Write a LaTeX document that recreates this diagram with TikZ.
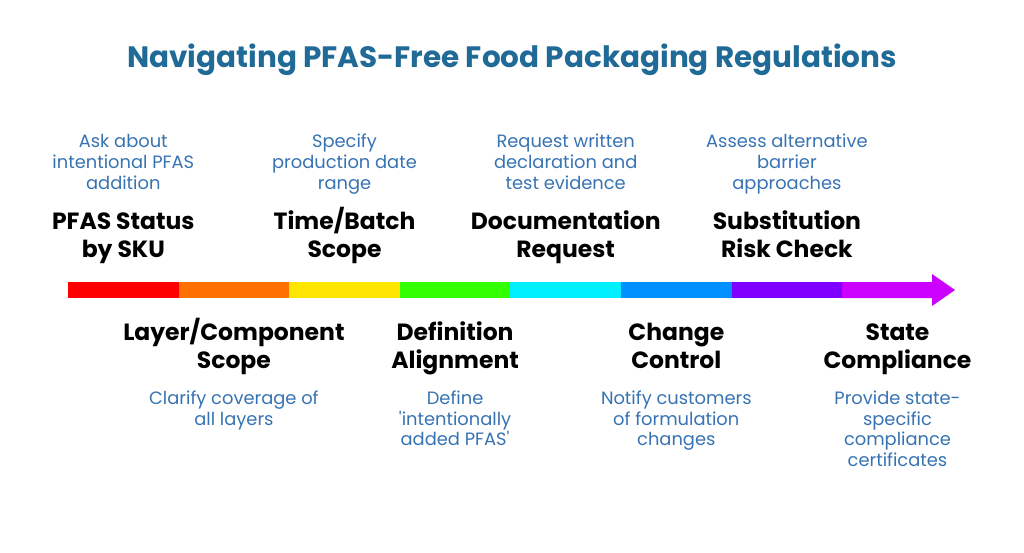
\documentclass[tikz,border=0pt]{standalone}
\usepackage{fontspec}
\setmainfont{Poppins}
\usetikzlibrary{arrows.meta, positioning}
\definecolor{titleblue}{RGB}{31,106,150}
\definecolor{descblue}{RGB}{55,115,178}
\definecolor{segred}{RGB}{255,0,0}
\definecolor{segorange}{RGB}{255,112,0}
\definecolor{segyellow}{RGB}{255,230,0}
\definecolor{seggreen}{RGB}{50,255,0}
\definecolor{segcyan}{RGB}{0,240,255}
\definecolor{segblue}{RGB}{0,144,255}
\definecolor{segviolet}{RGB}{127,0,255}
\definecolor{segmagenta}{RGB}{204,0,255}

\begin{document}
\begin{tikzpicture}[x=0.75pt, y=-0.75pt,
    stepname/.style={font=\fontsize{17.6}{21}\selectfont\bfseries, align=center, inner sep=0pt, anchor=base},
    stepdesc/.style={font=\fontsize{13.4}{15.4}\selectfont, descblue, align=center, inner sep=0pt}]
  \useasboundingbox (0,0) rectangle (1024,553);

  % Title
  \node[font=\fontsize{22.1}{26}\selectfont\bfseries, titleblue, anchor=base] (title) at (512,67)
    {Navigating PFAS-Free Food Packaging Regulations};

  % Bar
  \foreach \c [count=\i] in {segred, segorange, segyellow, seggreen, segcyan, segblue, segviolet} {
    \fill[\c] ({68+(\i-1)*110.6},282) rectangle ({68+\i*110.6},298);
  }
  \fill[segmagenta] (842.2,282) -- (932,282) -- (932,274) -- (955,290)
    -- (932,306) -- (932,298) -- (842.2,298) -- cycle;

  % Segment centres
  \foreach \i in {1,...,8} {
    \coordinate (s\i) at ({68+(\i-0.5)*110.6},290);
  }

  % Steps above the bar
  \node[stepname] (n1) at ([yshift=24.75pt]s1) {PFAS Status\\by SKU};
  \node[stepname] (n3) at ([yshift=24.75pt]s3) {Time/Batch\\Scope};
  \node[stepname] (n5) at ([yshift=24.75pt]s5) {Documentation\\Request};
  \node[stepname] (n7) at ([yshift=24.75pt]s7) {Substitution\\Risk Check};

  \node[stepdesc, above=51pt of n1.base, anchor=base] (d1) {Ask about\\intentional PFAS\\addition};
  \node[stepdesc, above=51pt of n3.base, anchor=base] (d3) {Specify\\production date\\range};
  \node[stepdesc, above=51pt of n5.base, anchor=base] (d5) {Request written\\declaration and\\test evidence};
  \node[stepdesc, above=51pt of n7.base, anchor=base] (d7) {Assess alternative\\barrier\\approaches};

  % Steps below the bar
  \node[stepname] (n2) at ([yshift=-58.5pt]s2) {Layer/Component\\Scope};
  \node[stepname] (n4) at ([yshift=-58.5pt]s4) {Definition\\Alignment};
  \node[stepname] (n6) at ([yshift=-58.5pt]s6) {Change\\Control};
  \node[stepname] (n8) at ([yshift=-58.5pt]s8) {State\\Compliance};

  \node[stepdesc, below=17.25pt of n2.base] (d2) {Clarify coverage of\\all layers};
  \node[stepdesc, below=17.25pt of n4.base] (d4) {Define\\\textquotesingle intentionally\\added PFAS\textquotesingle};
  \node[stepdesc, below=17.25pt of n6.base] (d6) {Notify customers\\of formulation\\changes};
  \node[stepdesc, below=17.25pt of n8.base] (d8) {Provide state-\\specific\\compliance\\certificates};
\end{tikzpicture}
\end{document}
